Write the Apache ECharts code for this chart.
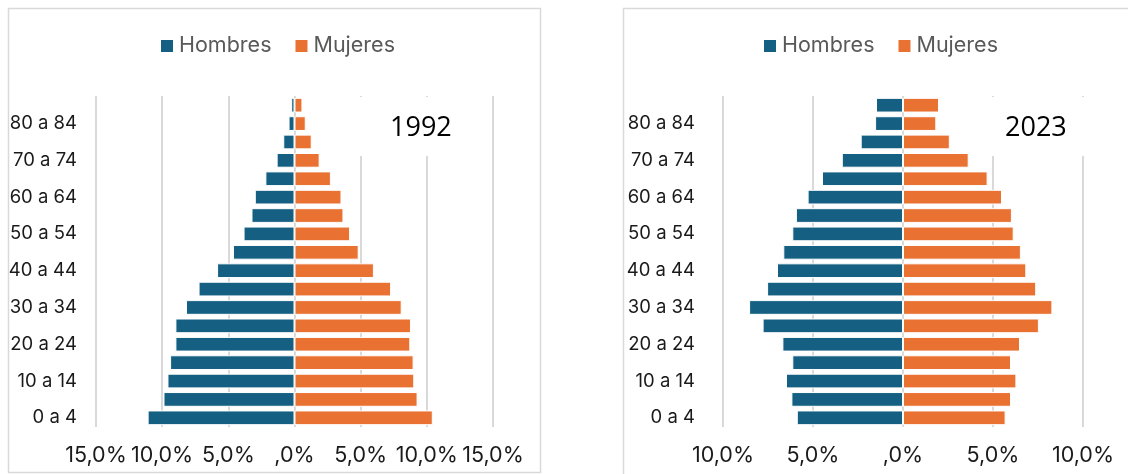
<!DOCTYPE html>
<html>
<head>
<meta charset="utf-8">
<script src="https://cdn.jsdelivr.net/npm/echarts@6/dist/echarts.min.js"></script>
<style>
  html, body { margin: 0; padding: 0; background: #fff; }
  #chart { width: 1128px; height: 474px; }
</style>
</head>
<body>
<div id="chart"></div>
<script>
// grupos de edad, de abajo hacia arriba
const edades = ['0 a 4', '5 a 9', '10 a 14', '15 a 19', '20 a 24', '25 a 29', '30 a 34', '35 a 39',
  '40 a 44', '45 a 49', '50 a 54', '55 a 59', '60 a 64', '65 a 69', '70 a 74', '75 a 79', '80 a 84', '85 y más'];

// % de la población total
const hombres1992 = [11.1, 9.9, 9.6, 9.4, 9.0, 9.0, 8.2, 7.25, 5.85, 4.65, 3.85, 3.25, 3.0, 2.2, 1.35, 0.85, 0.45, 0.25];
const mujeres1992 = [10.45, 9.3, 9.05, 9.0, 8.75, 8.8, 8.1, 7.3, 6.0, 4.85, 4.2, 3.7, 3.55, 2.75, 1.9, 1.3, 0.85, 0.6];

const hombres2023 = [5.9, 6.2, 6.5, 6.15, 6.7, 7.8, 8.55, 7.55, 7.0, 6.65, 6.15, 5.95, 5.3, 4.5, 3.4, 2.35, 1.55, 1.5];
const mujeres2023 = [5.7, 6.0, 6.3, 6.0, 6.5, 7.55, 8.3, 7.4, 6.85, 6.55, 6.15, 6.05, 5.5, 4.7, 3.65, 2.6, 1.85, 2.0];

const colorH = '#156082';
const colorM = '#e97132';

const fmt = v => v === 0 ? ',0%' : Math.abs(v).toFixed(1).replace('.', ',') + '%';

const chart = echarts.init(document.getElementById('chart'));

const legendBase = {
    padding: 0,
    itemWidth: 14,
    itemHeight: 14,
    itemGap: 22,
    icon: 'rect',
    textStyle: { fontSize: 21.5, color: '#595959', fontFamily: 'Inter' },
    data: ['Hombres', 'Mujeres'],
};

const xAxisBase = {
    type: 'value',
    interval: 5,
    axisLine: { show: false },
    axisTick: { show: false },
    axisLabel: { formatter: fmt, fontSize: 21.5, color: '#1a1a1a', fontFamily: 'Inter', margin: 18 },
    splitLine: { lineStyle: { color: '#d9d9d9', width: 2 } },
};

const yAxisBase = {
    type: 'category',
    data: edades,
    axisLine: { show: false },
    axisTick: { show: false },
    axisLabel: { interval: 1, fontSize: 18.5, color: '#1a1a1a', fontFamily: 'Inter' },
};

const barBase = {
    type: 'bar',
    barCategoryGap: '20%',
    itemStyle: { borderColor: '#fff', borderWidth: 1 },
};

const option = {
    animation: false,
    backgroundColor: '#fff',
    title: [
        {
            text: '1992', left: 340, top: 97,
            padding: [18, 30, 14, 50], backgroundColor: '#fff',
            textStyle: { fontSize: 27, fontWeight: 'normal', color: '#000', fontFamily: 'Open Sans' },
        },
        {
            text: '2023', left: 975, top: 97,
            padding: [18, 30, 14, 30], backgroundColor: '#fff',
            textStyle: { fontSize: 27, fontWeight: 'normal', color: '#000', fontFamily: 'Open Sans' },
        },
    ],
    legend: [
        Object.assign({ left: 159, top: 35 }, legendBase),
        Object.assign({ left: 762, top: 35 }, legendBase),
    ],
    grid: [
        { left: 96, right: 635, top: 96, bottom: 47 },
        { left: 723, right: 45, top: 96, bottom: 47 },
    ],
    xAxis: [
        Object.assign({ gridIndex: 0, min: -15, max: 15 }, xAxisBase),
        Object.assign({ gridIndex: 1, min: -10, max: 10 }, xAxisBase),
    ],
    yAxis: [
        Object.assign({ gridIndex: 0 }, yAxisBase, { axisLabel: Object.assign({}, yAxisBase.axisLabel, { margin: 19 }) }),
        Object.assign({ gridIndex: 1 }, yAxisBase, { axisLabel: Object.assign({}, yAxisBase.axisLabel, { margin: 28 }) }),
    ],
    series: [
        Object.assign({ name: 'Hombres', stack: 'a', xAxisIndex: 0, yAxisIndex: 0, color: colorH,
            data: hombres1992.map(v => -v) }, barBase),
        Object.assign({ name: 'Mujeres', stack: 'a', xAxisIndex: 0, yAxisIndex: 0, color: colorM,
            data: mujeres1992 }, barBase),
        Object.assign({ name: 'Hombres', stack: 'b', xAxisIndex: 1, yAxisIndex: 1, color: colorH,
            data: hombres2023.map(v => -v) }, barBase),
        Object.assign({ name: 'Mujeres', stack: 'b', xAxisIndex: 1, yAxisIndex: 1, color: colorM,
            data: mujeres2023 }, barBase),
    ],
    graphic: [
        // marcos de cada panel
        { type: 'rect', shape: { x: 8.5, y: 8.5, width: 532, height: 464 }, style: { fill: 'none', stroke: '#d9d9d9', lineWidth: 1.5 }, silent: true },
        { type: 'rect', shape: { x: 623.5, y: 8.5, width: 520, height: 480 }, style: { fill: 'none', stroke: '#d9d9d9', lineWidth: 1.5 }, silent: true },
    ],
};

chart.setOption(option);
</script>
</body>
</html>
